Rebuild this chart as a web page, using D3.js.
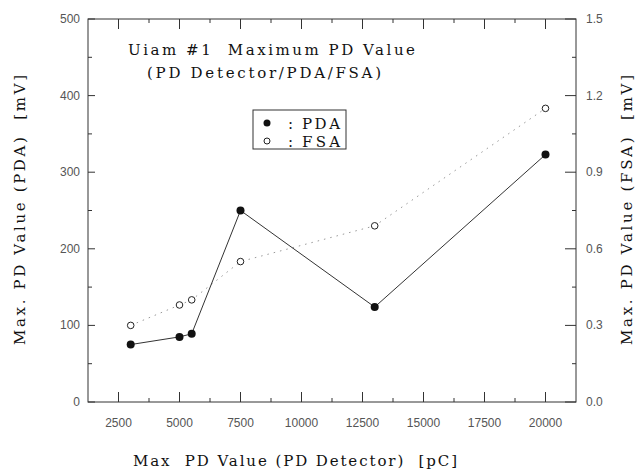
<!DOCTYPE html>
<html>
<head>
<meta charset="utf-8">
<script src="https://cdn.jsdelivr.net/npm/d3@7"></script>
<style>
  body { margin: 0; background: #fff; }
  svg { display: block; }
  svg text { white-space: pre; }
</style>
</head>
<body>
<svg id="chart" width="638" height="471"></svg>
<script>
// detector charge (pC) for each measurement
var detectorPC = [3000, 5000, 5500, 7500, 13000, 20000];
// PDA maximum (mV, left axis)
var pdaMV = [75, 85, 89, 250, 124, 323];
// FSA maximum (mV, right axis)
var fsaMV = [0.30, 0.38, 0.40, 0.55, 0.69, 1.15];

var xTicks = [2500, 5000, 7500, 10000, 12500, 15000, 17500, 20000];
var leftTicks = [0, 100, 200, 300, 400, 500];
var rightTicks = [0, 0.3, 0.6, 0.9, 1.2, 1.5];

(function() {
  var svg = d3.select('#chart');
  var pLeft = 88, pRight = 576, pTop = 19, pBottom = 402;

  var x = d3.scaleLinear().domain([1250, 21250]).range([pLeft, pRight]);
  var yL = d3.scaleLinear().domain([0, 500]).range([pBottom, pTop]);
  var yR = d3.scaleLinear().domain([0, 1.5]).range([pBottom, pTop]);

  var axisColor = '#333';
  var labelFont = '"Liberation Sans", Arial, sans-serif';
  var serifFont = '"DejaVu Serif", "Liberation Serif", serif';

  // frame
  svg.append('rect')
    .attr('x', pLeft).attr('y', pTop)
    .attr('width', pRight - pLeft).attr('height', pBottom - pTop)
    .attr('fill', 'none').attr('stroke', axisColor).attr('stroke-width', 1);

  // x ticks, inward on bottom and top
  function xTickLines(vals, len) {
    vals.forEach(function(v) {
      svg.append('line').attr('x1', x(v)).attr('x2', x(v))
        .attr('y1', pBottom).attr('y2', pBottom - len)
        .attr('stroke', axisColor);
      svg.append('line').attr('x1', x(v)).attr('x2', x(v))
        .attr('y1', pTop).attr('y2', pTop + len)
        .attr('stroke', axisColor);
    });
  }
  xTickLines(xTicks, 10);
  xTickLines(xTicks.map(function(v) { return v + 1250; }).filter(function(v) { return v < 21250; }), 4);

  svg.selectAll('.xlab').data(xTicks).enter().append('text')
    .attr('x', function(d) { return x(d); })
    .attr('y', 427)
    .attr('text-anchor', 'middle')
    .attr('font-family', labelFont).attr('font-size', 12)
    .attr('fill', '#555')
    .text(function(d) { return d; });

  // left axis ticks
  leftTicks.forEach(function(v) {
    svg.append('line').attr('x1', pLeft).attr('x2', pLeft + 7)
      .attr('y1', yL(v)).attr('y2', yL(v)).attr('stroke', axisColor);
    if (v < 500) {
      svg.append('line').attr('x1', pLeft).attr('x2', pLeft + 4)
        .attr('y1', yL(v + 50)).attr('y2', yL(v + 50)).attr('stroke', axisColor);
    }
  });
  svg.selectAll('.ylab').data(leftTicks).enter().append('text')
    .attr('x', 80).attr('y', function(d) { return yL(d) + 4; })
    .attr('text-anchor', 'end')
    .attr('font-family', labelFont).attr('font-size', 12)
    .attr('fill', '#555')
    .text(function(d) { return d; });

  // right axis ticks
  rightTicks.forEach(function(v) {
    svg.append('line').attr('x1', pRight).attr('x2', pRight - 11)
      .attr('y1', yR(v)).attr('y2', yR(v)).attr('stroke', axisColor);
    if (v < 1.5) {
      svg.append('line').attr('x1', pRight).attr('x2', pRight - 4)
        .attr('y1', yR(v + 0.15)).attr('y2', yR(v + 0.15)).attr('stroke', axisColor);
    }
  });
  svg.selectAll('.rlab').data(rightTicks).enter().append('text')
    .attr('x', 586).attr('y', function(d) { return yR(d) + 4; })
    .attr('text-anchor', 'start')
    .attr('font-family', labelFont).attr('font-size', 12)
    .attr('fill', '#555')
    .text(function(d) { return d3.format('.1f')(d); });

  // FSA dotted line
  var fsaLine = d3.line()
    .x(function(d, i) { return x(detectorPC[i]); })
    .y(function(d) { return yR(d); });
  svg.append('path').datum(fsaMV)
    .attr('d', fsaLine)
    .attr('fill', 'none').attr('stroke', '#999')
    .attr('stroke-width', 1).attr('stroke-dasharray', '1.5,5');

  // PDA solid line
  var pdaLine = d3.line()
    .x(function(d, i) { return x(detectorPC[i]); })
    .y(function(d) { return yL(d); });
  svg.append('path').datum(pdaMV)
    .attr('d', pdaLine)
    .attr('fill', 'none').attr('stroke', '#333')
    .attr('stroke-width', 1);

  svg.selectAll('.fsa').data(fsaMV).enter().append('circle')
    .attr('cx', function(d, i) { return x(detectorPC[i]); })
    .attr('cy', function(d) { return yR(d); })
    .attr('r', 3.3)
    .attr('fill', '#fff').attr('stroke', '#222').attr('stroke-width', 1);

  svg.selectAll('.pda').data(pdaMV).enter().append('circle')
    .attr('cx', function(d, i) { return x(detectorPC[i]); })
    .attr('cy', function(d) { return yL(d); })
    .attr('r', 4)
    .attr('fill', '#111');

  // title
  svg.append('text').attr('x', 128).attr('y', 55)
    .attr('font-family', serifFont).attr('font-size', 15)
    .attr('textLength', 287).attr('lengthAdjust', 'spacing')
    .attr('fill', '#111')
    .text('Uiam #1  Maximum PD Value');
  svg.append('text').attr('x', 147).attr('y', 78)
    .attr('font-family', serifFont).attr('font-size', 15)
    .attr('textLength', 234).attr('lengthAdjust', 'spacing')
    .attr('fill', '#111')
    .text('(PD Detector/PDA/FSA)');

  // legend
  svg.append('rect').attr('x', 253).attr('y', 110)
    .attr('width', 93).attr('height', 39)
    .attr('fill', '#fff').attr('stroke', axisColor);
  svg.append('circle').attr('cx', 267).attr('cy', 123).attr('r', 3.5).attr('fill', '#111');
  svg.append('circle').attr('cx', 267).attr('cy', 141).attr('r', 3)
    .attr('fill', '#fff').attr('stroke', '#222');
  [['PDA', 129], ['FSA', 147]].forEach(function(r) {
    svg.append('text').attr('x', 288).attr('y', r[1])
      .attr('font-family', serifFont).attr('font-size', 15).attr('fill', '#111')
      .text(':');
    svg.append('text').attr('x', 302).attr('y', r[1])
      .attr('font-family', serifFont).attr('font-size', 15).attr('fill', '#111')
      .attr('textLength', 38).attr('lengthAdjust', 'spacing')
      .text(r[0]);
  });

  // axis titles
  svg.append('text')
    .attr('transform', 'translate(25,210) rotate(-90)')
    .attr('text-anchor', 'middle')
    .attr('font-family', serifFont).attr('font-size', 15).attr('fill', '#111')
    .attr('textLength', 270).attr('lengthAdjust', 'spacing')
    .text('Max. PD Value (PDA)  [mV]');
  svg.append('text')
    .attr('transform', 'translate(632,210) rotate(-90)')
    .attr('text-anchor', 'middle')
    .attr('font-family', serifFont).attr('font-size', 15).attr('fill', '#111')
    .attr('textLength', 270).attr('lengthAdjust', 'spacing')
    .text('Max. PD Value (FSA)  [mV]');
  svg.append('text')
    .attr('x', 295).attr('y', 466)
    .attr('text-anchor', 'middle')
    .attr('font-family', serifFont).attr('font-size', 15).attr('fill', '#111')
    .attr('textLength', 324).attr('lengthAdjust', 'spacing')
    .text('Max  PD Value (PD Detector)  [pC]');
})();
</script>
</body>
</html>
